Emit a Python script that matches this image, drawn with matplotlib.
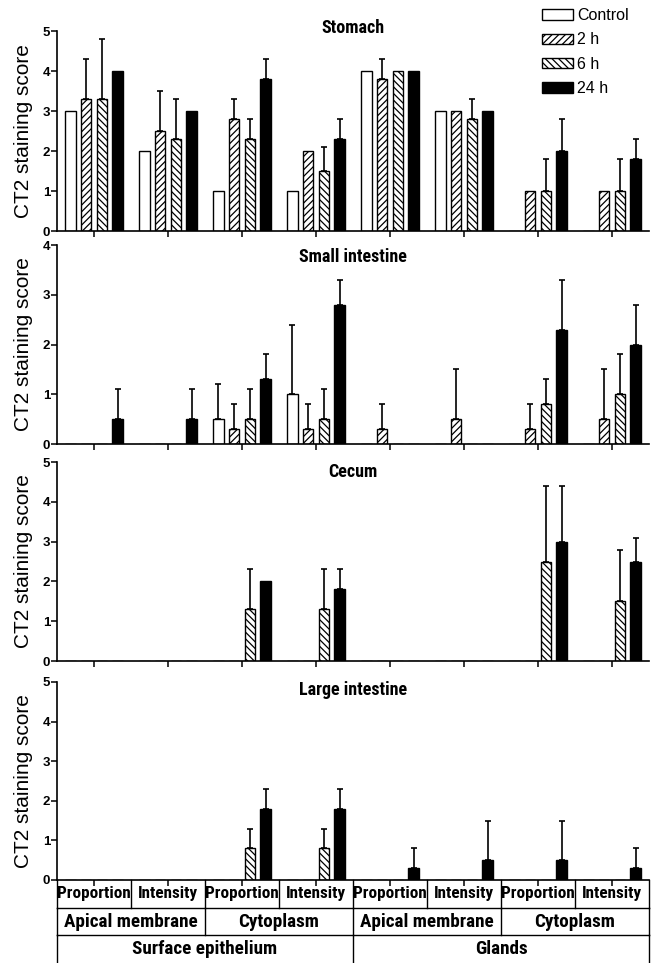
import numpy as np
from matplotlib import pyplot as plt
import matplotlib.patches as mpatches
from matplotlib import font_manager as fm

plt.rcParams["font.family"] = ["Liberation Sans", "DejaVu Sans"]
plt.rcParams["hatch.linewidth"] = 0.9

# the original uses a condensed bold face for titles and the table;
# take the first narrow family that is installed
_installed = {f.name for f in fm.fontManager.ttflist}
NARROW = [n for n in ("Liberation Sans Narrow", "Arial Narrow",
                      "Roboto Condensed", "Archivo Narrow", "Asap Condensed")
          if n in _installed][:1] + ["Liberation Sans", "DejaVu Sans"]

# ----------------------------------------------------------------------
# DATA (errors are the upper SD only)
# ----------------------------------------------------------------------

SERIES = ["Control", "2 h", "6 h", "24 h"]

# one bar group per column of the table under the last panel
ROW_MEASURE = ["Proportion", "Intensity"] * 4
ROW_SITE = ["Apical membrane", "Cytoplasm", "Apical membrane", "Cytoplasm"]
ROW_TISSUE = ["Surface epithelium", "Glands"]

stomach_control = [3.0, 2.0, 1.0, 1.0, 4.0, 3.0, 0.0, 0.0]
stomach_2h = [3.3, 2.5, 2.8, 2.0, 3.8, 3.0, 1.0, 1.0]
stomach_6h = [3.3, 2.3, 2.3, 1.5, 4.0, 2.8, 1.0, 1.0]
stomach_24h = [4.0, 3.0, 3.8, 2.3, 4.0, 3.0, 2.0, 1.8]
stomach_control_err = [0, 0, 0, 0, 0, 0, 0, 0]
stomach_2h_err = [1.0, 1.0, 0.5, 0, 0.5, 0, 0, 0]
stomach_6h_err = [1.5, 1.0, 0.5, 0.6, 0, 0.5, 0.8, 0.8]
stomach_24h_err = [0, 0, 0.5, 0.5, 0, 0, 0.8, 0.5]

small_control = [0, 0, 0.5, 1.0, 0, 0, 0, 0]
small_2h = [0, 0, 0.3, 0.3, 0.3, 0.5, 0.3, 0.5]
small_6h = [0, 0, 0.5, 0.5, 0, 0, 0.8, 1.0]
small_24h = [0.5, 0.5, 1.3, 2.8, 0, 0, 2.3, 2.0]
small_control_err = [0, 0, 0.7, 1.4, 0, 0, 0, 0]
small_2h_err = [0, 0, 0.5, 0.5, 0.5, 1.0, 0.5, 1.0]
small_6h_err = [0, 0, 0.6, 0.6, 0, 0, 0.5, 0.8]
small_24h_err = [0.6, 0.6, 0.5, 0.5, 0, 0, 1.0, 0.8]

cecum_control = [0, 0, 0, 0, 0, 0, 0, 0]
cecum_2h = [0, 0, 0, 0, 0, 0, 0, 0]
cecum_6h = [0, 0, 1.3, 1.3, 0, 0, 2.5, 1.5]
cecum_24h = [0, 0, 2.0, 1.8, 0, 0, 3.0, 2.5]
cecum_control_err = [0, 0, 0, 0, 0, 0, 0, 0]
cecum_2h_err = [0, 0, 0, 0, 0, 0, 0, 0]
cecum_6h_err = [0, 0, 1.0, 1.0, 0, 0, 1.9, 1.3]
cecum_24h_err = [0, 0, 0, 0.5, 0, 0, 1.4, 0.6]

large_control = [0, 0, 0, 0, 0, 0, 0, 0]
large_2h = [0, 0, 0, 0, 0, 0, 0, 0]
large_6h = [0, 0, 0.8, 0.8, 0, 0, 0, 0]
large_24h = [0, 0, 1.8, 1.8, 0.3, 0.5, 0.5, 0.3]
large_control_err = [0, 0, 0, 0, 0, 0, 0, 0]
large_2h_err = [0, 0, 0, 0, 0, 0, 0, 0]
large_6h_err = [0, 0, 0.5, 0.5, 0, 0, 0, 0]
large_24h_err = [0, 0, 0.5, 0.5, 0.5, 1.0, 1.0, 0.5]

PANELS = [
    ("Stomach", 5,
     [stomach_control, stomach_2h, stomach_6h, stomach_24h],
     [stomach_control_err, stomach_2h_err, stomach_6h_err, stomach_24h_err]),
    ("Small intestine", 4,
     [small_control, small_2h, small_6h, small_24h],
     [small_control_err, small_2h_err, small_6h_err, small_24h_err]),
    ("Cecum", 5,
     [cecum_control, cecum_2h, cecum_6h, cecum_24h],
     [cecum_control_err, cecum_2h_err, cecum_6h_err, cecum_24h_err]),
    ("Large intestine", 5,
     [large_control, large_2h, large_6h, large_24h],
     [large_control_err, large_2h_err, large_6h_err, large_24h_err]),
]

# ----------------------------------------------------------------------
# LAYOUT / STYLE
# ----------------------------------------------------------------------

W, H = 656, 963
LEFT, RIGHT = 57, 649
# (top, bottom) pixel rows of each panel's plotting area
PANEL_ROWS = [(31, 231), (245, 444), (462, 661), (682, 880)]
TITLE_Y = [1.015, 0.94, 0.95, 0.96]
TABLE_ROWS = (880, 963)

BAR_W = 0.142
BAR_STEP = 0.212
STYLES = [
    dict(facecolor="white", hatch=None),
    dict(facecolor="white", hatch="/////"),
    dict(facecolor="white", hatch="\\\\\\\\\\"),
    dict(facecolor="black", hatch=None),
]


def rect(top, bottom):
    return [LEFT / W, 1 - bottom / H, (RIGHT - LEFT) / W, (bottom - top) / H]


def draw_panel(ax, title, title_y, ymax, series, errors):
    x = np.arange(len(ROW_MEASURE))
    for i, (vals, errs) in enumerate(zip(series, errors)):
        pos = x + (i - 1.5) * BAR_STEP
        ax.bar(pos, vals, BAR_W, edgecolor="black", linewidth=1.0,
               zorder=2, **STYLES[i])
        vals = np.asarray(vals, float)
        errs = np.asarray(errs, float)
        m = errs > 0
        if m.any():
            ax.errorbar(pos[m], vals[m], yerr=[np.zeros(m.sum()), errs[m]],
                        fmt="none", ecolor="black", elinewidth=1.2,
                        capsize=2.5, capthick=1.2, zorder=3)

    ax.set_xlim(-0.5, 7.5)
    ax.set_ylim(0, ymax)
    ax.set_yticks(range(ymax + 1))
    ax.set_xticks(x)
    ax.set_xticklabels([])
    for side in ("top", "right"):
        ax.spines[side].set_visible(False)
    for side in ("left", "bottom"):
        ax.spines[side].set_linewidth(1.2)
    ax.tick_params(axis="both", direction="out", length=4, width=1.1)
    ax.tick_params(axis="y", pad=1, labelsize=9.5)
    for lab in ax.get_yticklabels():
        lab.set_fontweight("bold")
    ax.set_ylabel("CT2 staining score", fontsize=15)
    ax.yaxis.set_label_coords(-0.04, 0.5)
    ax.text(0.5, title_y, title, transform=ax.transAxes, ha="center",
            va="center", fontsize=13, fontweight="bold", family=NARROW)


def draw_table(ax):
    ax.set_xlim(-0.5, 7.5)
    ax.set_ylim(3, 0)
    ax.axis("off")
    kw = dict(color="black", linewidth=1.0, clip_on=False)
    # horizontal rules between rows
    for y in (1, 2):
        ax.plot([-0.5, 7.5], [y, y], **kw)
    # vertical rules per row
    for xv in np.arange(-0.5, 8.0, 1.0):
        ax.plot([xv, xv], [0, 1], **kw)
    for xv in np.arange(-0.5, 8.0, 2.0):
        ax.plot([xv, xv], [1, 2], **kw)
    for xv in (-0.5, 3.5, 7.5):
        ax.plot([xv, xv], [2, 3], **kw)

    txt = dict(ha="center", va="center", fontweight="bold", family=NARROW)
    for i, lab in enumerate(ROW_MEASURE):
        ax.text(i, 0.5, lab, fontsize=12.3, **txt)
    for i, lab in enumerate(ROW_SITE):
        ax.text(2 * i + 0.5, 1.5, lab, fontsize=13.8, **txt)
    for i, lab in enumerate(ROW_TISSUE):
        ax.text(4 * i + 1.5, 2.5, lab, fontsize=13.8, **txt)


def main():
    fig = plt.figure(figsize=(W / 100, H / 100), dpi=100)
    axes = []
    for (top, bottom), ty, (title, ymax, series, errors) in zip(
            PANEL_ROWS, TITLE_Y, PANELS):
        ax = fig.add_axes(rect(top, bottom))
        draw_panel(ax, title, ty, ymax, series, errors)
        axes.append(ax)

    tax = fig.add_axes(rect(*TABLE_ROWS))
    draw_table(tax)

    patches = [mpatches.Patch(edgecolor="black", linewidth=1.0, **s)
               for s in STYLES]
    fig.legend(patches, SERIES, loc="upper left",
               bbox_to_anchor=(539 / W, 1 - 5 / H), frameon=False,
               fontsize=11.5, handlelength=1.95, handleheight=0.65,
               handletextpad=0.25, labelspacing=0.58, borderpad=0.2,
               borderaxespad=0)

    fig.savefig("out.png", dpi=100)


if __name__ == "__main__":
    main()
